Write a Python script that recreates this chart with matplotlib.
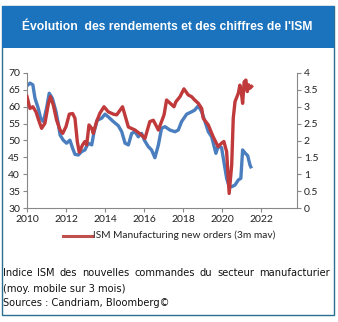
import matplotlib
matplotlib.use("Agg")
import matplotlib.pyplot as plt
from matplotlib.patches import Rectangle

# ISM new orders (3m mav), left axis
ism_t = [2010.0, 2010.15, 2010.3, 2010.46, 2010.6, 2010.75, 2010.92, 2011.1, 2011.2,
         2011.35, 2011.52, 2011.7, 2011.83, 2012.0, 2012.17, 2012.34, 2012.46, 2012.58,
         2012.68, 2012.85, 2012.97, 2013.06, 2013.18, 2013.32, 2013.4, 2013.57, 2013.74,
         2013.95, 2014.17, 2014.43, 2014.6, 2014.9, 2015.2, 2015.54, 2015.88, 2016.05,
         2016.3, 2016.48, 2016.74, 2017.03, 2017.16, 2017.33, 2017.54, 2017.64, 2017.85,
         2018.05, 2018.27, 2018.44, 2018.6, 2018.79, 2018.96, 2019.04, 2019.3, 2019.55,
         2019.8, 2019.98, 2020.1, 2020.24, 2020.37, 2020.5, 2020.58, 2020.67, 2020.84,
         2020.92, 2021.0, 2021.06, 2021.14, 2021.23, 2021.3, 2021.37, 2021.44, 2021.52]
ism_v = [63.0, 59.5, 60.0, 58.5, 56.0, 53.6, 55.1, 61.0, 63.0,
         60.5, 56.0, 53.1, 52.1, 54.1, 57.8, 58.0, 56.6, 49.7,
         46.5, 48.7, 49.7, 48.7, 54.6, 53.6, 52.1, 55.6, 58.1,
         60.0, 58.5, 57.8, 57.6, 60.0, 54.0, 53.1, 51.6, 50.6,
         55.6, 56.0, 53.1, 57.6, 62.0, 61.1, 60.0, 61.5, 63.0,
         65.3, 63.5, 63.0, 62.0, 61.0, 59.5, 56.6, 54.6, 51.1,
         48.2, 49.2, 49.7, 46.7, 34.3, 42.7, 56.6, 61.5, 64.0,
         66.4, 64.0, 61.0, 67.4, 67.9, 64.5, 66.5, 65.5, 66.0]

# blue series, right axis (yield, %)
yld_t = [2010.0, 2010.15, 2010.3, 2010.41, 2010.58, 2010.7, 2010.84, 2011.0, 2011.14,
         2011.3, 2011.49, 2011.6, 2011.7, 2011.86, 2012.03, 2012.2, 2012.34, 2012.46,
         2012.63, 2012.8, 2012.97, 2013.14, 2013.32, 2013.44, 2013.6, 2013.83, 2014.0,
         2014.17, 2014.43, 2014.68, 2014.86, 2015.03, 2015.2, 2015.37, 2015.54, 2015.71,
         2015.88, 2016.02, 2016.22, 2016.39, 2016.56, 2016.74, 2016.9, 2017.08, 2017.33,
         2017.59, 2017.76, 2017.93, 2018.19, 2018.44, 2018.6, 2018.79, 2018.96, 2019.13,
         2019.3, 2019.47, 2019.69, 2019.8, 2019.98, 2020.1, 2020.24, 2020.37, 2020.5,
         2020.67, 2020.84, 2020.97, 2021.06, 2021.2, 2021.32, 2021.44, 2021.48]
yld_v = [3.62, 3.70, 3.65, 3.25, 2.95, 2.66, 2.56, 2.95, 3.40,
         3.25, 2.85, 2.51, 2.16, 2.01, 1.92, 2.01, 1.77, 1.59,
         1.57, 1.67, 1.72, 1.92, 1.87, 2.26, 2.60, 2.66, 2.78,
         2.70, 2.56, 2.44, 2.26, 1.92, 1.87, 2.21, 2.26, 2.11,
         2.21, 2.01, 1.82, 1.72, 1.49, 1.87, 2.36, 2.41, 2.31,
         2.26, 2.31, 2.56, 2.78, 2.85, 2.90, 3.03, 2.85, 2.56,
         2.26, 2.11, 1.62, 1.82, 1.79, 1.37, 0.88, 0.63, 0.63,
         0.68, 0.83, 0.88, 1.72, 1.62, 1.55, 1.27, 1.22]

title = "Évolution  des rendements et des chiffres de l'ISM"
legend_label = "ISM Manufacturing new orders (3m mav)"
notes = ["Indice ISM des nouvelles commandes du secteur manufacturier",
         "(moy. mobile sur 3 mois)",
         "Sources : Candriam, Bloomberg©"]

red = "#c0393b"
blue = "#4a7ebf"
W, H = 338, 322

fig = plt.figure(figsize=(W / 100, H / 100), dpi=100)
fig.patch.set_facecolor("white")

# outer frame + title band
fig.patches.append(Rectangle((1.5 / W, 1 - 315 / H), 332.5 / W, 309 / H, transform=fig.transFigure,
                             fill=False, edgecolor="#2a6f8f", linewidth=1.0))
fig.patches.append(Rectangle((1.5 / W, 1 - 48 / H), 332.5 / W, 42 / H, transform=fig.transFigure,
                             facecolor="#1b73bd", edgecolor="none"))
fig.text(167 / W, 1 - 27 / H, title, color="white", fontsize=8.7, fontweight="bold",
         family=["Liberation Sans Narrow", "Liberation Sans"], ha="center", va="center")

ax = fig.add_axes([27 / W, 1 - 208 / H, 270 / W, 135 / H])
ax2 = ax.twinx()

ax.plot(ism_t, ism_v, color=red, lw=2.4, solid_joinstyle="round", zorder=3)
ax2.plot(yld_t, yld_v, color=blue, lw=2.4, solid_joinstyle="round", zorder=2)
ax.set_zorder(ax2.get_zorder() + 1)
ax.patch.set_visible(False)

ax.set_xlim(2010, 2023.85)
ax.set_ylim(30, 70)
ax2.set_ylim(0, 4)
ax.set_xticks(range(2010, 2024, 2))
ax.set_yticks(range(30, 71, 5))
ax2.set_yticks([0, 0.5, 1, 1.5, 2, 2.5, 3, 3.5, 4])
ax2.set_yticklabels(["0", "0.5", "1", "1.5", "2", "2.5", "3", "3.5", "4"])

for a in (ax, ax2):
    for s in a.spines.values():
        s.set_visible(False)
    a.tick_params(labelsize=7.5, length=3, width=0.8, color="#888888", pad=2,
                  labelcolor="#222222")
    for lab in a.get_xticklabels() + a.get_yticklabels():
        lab.set_family("Lato")
ax.spines["left"].set_visible(True)
ax.spines["bottom"].set_visible(True)
ax2.spines["right"].set_visible(True)
for s in (ax.spines["left"], ax.spines["bottom"], ax2.spines["right"]):
    s.set_color("#888888")
    s.set_linewidth(0.8)

# legend (red series only)
fig.lines.append(plt.Line2D([63 / W, 92 / W], [1 - 235.5 / H] * 2, transform=fig.transFigure,
                            color="#c0504d", lw=2.2))
fig.text(93 / W, 1 - 235.5 / H, legend_label, fontsize=7.3, family="Lato",
         color="#222222", ha="left", va="center")

# footer notes; first line is justified across the box
renderer = fig.canvas.get_renderer()
ys = [273, 289, 303]
note_kw = dict(fontsize=7.1, family="DejaVu Sans", color="#111111", va="center")

words = notes[0].split()
x0, x1 = 3, 330
widths = []
for w in words:
    t = fig.text(0, 0, w, **note_kw)
    widths.append(t.get_window_extent(renderer).width)
    t.remove()
gap = (x1 - x0 - sum(widths)) / (len(words) - 1)
x = x0
for w, wd in zip(words, widths):
    fig.text(x / W, 1 - ys[0] / H, w, ha="left", **note_kw)
    x += wd + gap

for txt, y in zip(notes[1:], ys[1:]):
    fig.text(x0 / W, 1 - y / H, txt, ha="left", **note_kw)

fig.savefig("out.png", dpi=100)
